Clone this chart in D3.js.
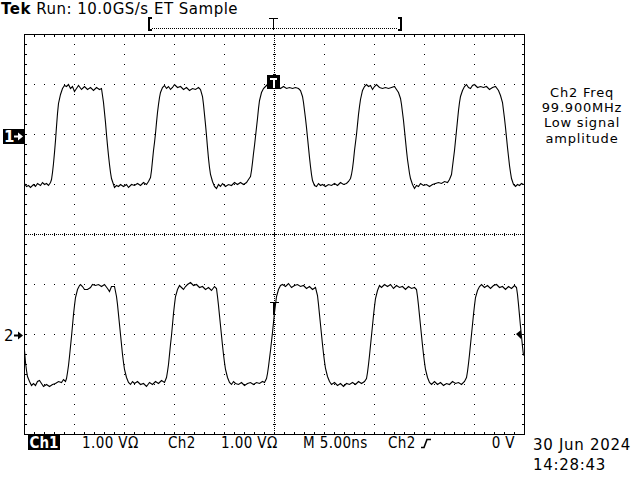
<!DOCTYPE html>
<html>
<head>
<meta charset="utf-8">
<script src="https://cdnjs.cloudflare.com/ajax/libs/d3/7.8.5/d3.min.js"></script>
<style>
  body { margin: 0; background: #fff; }
  svg { display: block; }
  text { font-family: "DejaVu Sans", sans-serif; fill: #000; }
  .bar text { font-family: "Liberation Sans Narrow", "DejaVu Sans Condensed", "DejaVu Sans", sans-serif; font-size: 15px; }
</style>
</head>
<body>
<div id="scope"></div>
<script>
// 5 ns/div across 10 divisions, 1 V/div over 8 divisions
var timeDivs = [-25, -20, -15, -10, -5, 0, 5, 10, 15, 20, 25];
var voltDivs = [-4, -3, -2, -1, 0, 1, 2, 3, 4];
var ch1Offset = 2;   // divisions above centre
var ch2Offset = -2;

// [time ns, volts]
var ch1 = [
  [-25.0,-0.98],[-24.8,-1.04],[-24.6,-1.02],[-24.4,-1.06],[-24.1,-1.00],[-23.9,-1.04],[-23.7,-0.98],[-23.4,-1.02],
  [-23.2,-0.96],[-23.0,-1.00],[-22.8,-0.98],[-22.6,-1.02],[-22.4,-0.96],[-22.3,-0.90],
  [-22.2,-0.76],[-22.1,-0.58],[-22.0,-0.36],[-21.9,-0.12],[-21.8,0.16],[-21.7,0.42],[-21.6,0.62],[-21.4,0.80],[-21.2,0.92],[-21.0,0.98],
  [-20.8,0.96],[-20.6,1.00],[-20.4,0.92],[-20.2,0.96],[-20.0,0.86],[-19.8,0.92],[-19.6,0.98],[-19.3,0.90],[-19.0,0.96],
  [-18.7,0.90],[-18.4,0.94],[-18.1,0.88],[-17.8,0.94],[-17.5,0.90],[-17.3,0.92],
  [-17.2,0.78],[-17.1,0.64],[-17.0,0.44],[-16.9,0.24],[-16.8,0.00],[-16.7,-0.22],[-16.6,-0.42],[-16.5,-0.60],[-16.4,-0.76],[-16.3,-0.88],[-16.1,-1.00],
  [-16.0,-1.06],[-15.8,-1.02],[-15.6,-1.04],[-15.4,-1.00],[-15.1,-1.04],[-14.8,-1.00],[-14.6,-1.06],[-14.3,-1.00],[-14.0,-1.02],
  [-13.7,-0.98],[-13.4,-1.02],[-13.1,-0.96],[-12.8,-1.00],[-12.6,-0.94],[-12.4,-0.86],
  [-12.3,-0.72],[-12.2,-0.52],[-12.1,-0.32],[-12.0,-0.16],[-11.9,0.02],[-11.8,0.24],[-11.7,0.44],[-11.6,0.60],[-11.5,0.74],[-11.4,0.84],[-11.2,0.94],[-11.0,0.98],
  [-10.8,0.92],[-10.6,0.96],[-10.4,0.90],[-10.2,0.94],[-10.0,1.00],[-9.7,0.94],[-9.4,0.96],[-9.1,0.90],[-8.8,0.94],[-8.5,0.88],[-8.2,0.92],[-7.9,0.90],[-7.6,0.94],[-7.4,0.90],
  [-7.2,0.76],[-7.1,0.60],[-7.0,0.40],[-6.9,0.20],[-6.8,-0.02],[-6.7,-0.26],[-6.6,-0.48],[-6.5,-0.66],[-6.4,-0.80],[-6.2,-0.94],[-6.0,-1.04],
  [-5.8,-1.08],[-5.6,-1.00],[-5.4,-1.04],[-5.2,-0.98],[-4.9,-1.04],[-4.6,-1.00],[-4.3,-1.02],[-4.0,-0.96],[-3.7,-1.00],[-3.4,-0.96],[-3.1,-1.00],[-2.8,-0.96],[-2.6,-0.90],[-2.4,-0.84],
  [-2.3,-0.72],[-2.2,-0.56],[-2.1,-0.38],[-2.0,-0.22],[-1.9,-0.04],[-1.8,0.14],[-1.7,0.32],[-1.6,0.52],[-1.5,0.68],[-1.3,0.84],[-1.1,0.92],[-0.9,0.96],
  [-0.7,1.00],[-0.4,0.98],[0.0,0.94],[0.3,0.96],[0.6,0.92],[0.9,0.96],[1.2,0.92],[1.5,0.94],[1.8,0.92],[2.1,0.94],[2.4,0.92],[2.6,0.88],
  [2.8,0.76],[2.9,0.64],[3.0,0.48],[3.1,0.32],[3.2,0.14],[3.3,-0.06],[3.4,-0.26],[3.5,-0.46],[3.6,-0.64],[3.7,-0.80],[3.8,-0.92],[4.0,-1.02],
  [4.2,-1.04],[4.4,-0.98],[4.6,-1.02],[4.8,-1.00],[5.1,-1.04],[5.4,-1.00],[5.7,-1.02],[6.0,-0.98],[6.3,-1.02],[6.6,-0.96],[6.9,-1.00],[7.2,-0.98],[7.4,-0.94],[7.6,-0.88],
  [7.7,-0.80],[7.8,-0.68],[7.9,-0.52],[8.0,-0.32],[8.1,-0.16],[8.2,0.00],[8.3,0.20],[8.4,0.40],[8.5,0.56],[8.6,0.70],[8.8,0.88],[9.0,0.96],
  [9.2,1.00],[9.4,0.96],[9.6,0.98],[9.8,0.90],[10.0,0.96],[10.2,1.00],[10.5,0.94],[10.8,0.92],[11.1,0.94],[11.4,0.92],[11.7,0.94],[12.0,0.96],[12.2,0.90],
  [12.4,0.84],[12.6,0.72],[12.7,0.60],[12.8,0.44],[12.9,0.28],[13.0,0.08],[13.1,-0.12],[13.2,-0.32],[13.3,-0.50],[13.4,-0.64],[13.5,-0.78],[13.6,-0.88],[13.8,-1.00],
  [14.0,-1.08],[14.2,-1.02],[14.4,-1.04],[14.6,-0.98],[14.9,-1.02],[15.2,-1.00],[15.5,-1.04],[15.8,-1.00],[16.1,-0.98],[16.4,-0.96],[16.7,-0.98],[17.0,-0.94],[17.3,-0.96],[17.5,-0.90],
  [17.7,-0.80],[17.8,-0.64],[17.9,-0.48],[18.0,-0.32],[18.1,-0.12],[18.2,0.08],[18.3,0.28],[18.4,0.48],[18.5,0.64],[18.6,0.76],[18.8,0.88],[19.0,0.96],
  [19.2,1.00],[19.4,0.94],[19.6,0.92],[19.8,0.98],[20.0,1.00],[20.3,0.94],[20.6,0.96],[20.9,0.94],[21.2,0.96],[21.5,0.90],[21.8,0.94],[22.1,0.96],[22.4,0.88],
  [22.6,0.78],[22.8,0.64],[22.9,0.48],[23.0,0.32],[23.1,0.14],[23.2,-0.06],[23.3,-0.26],[23.4,-0.44],[23.5,-0.62],[23.6,-0.76],[23.7,-0.88],[23.9,-1.00],
  [24.1,-1.04],[24.3,-1.00],[24.5,-1.02],[24.7,-0.98],[24.9,-1.00]
];

var ch2 = [
  [-25.0,-0.32],[-24.9,-0.56],[-24.8,-0.72],[-24.7,-0.84],[-24.5,-0.94],[-24.3,-1.02],
  [-24.1,-0.98],[-23.9,-1.02],[-23.7,-0.94],[-23.5,-0.92],[-23.3,-0.98],[-23.1,-1.04],[-22.8,-1.00],[-22.5,-1.04],[-22.2,-1.00],
  [-21.9,-0.98],[-21.6,-0.94],[-21.3,-0.96],[-21.1,-0.90],[-20.9,-0.94],[-20.8,-0.88],
  [-20.7,-0.76],[-20.6,-0.62],[-20.5,-0.44],[-20.4,-0.24],[-20.3,-0.04],[-20.2,0.18],[-20.1,0.40],[-20.0,0.58],[-19.9,0.74],[-19.7,0.90],[-19.5,0.98],
  [-19.4,1.00],[-19.2,0.96],[-19.0,0.90],[-18.7,0.90],[-18.4,0.94],[-18.2,1.00],[-17.9,0.98],[-17.6,1.00],[-17.3,0.96],[-17.0,1.00],[-16.7,0.92],[-16.5,0.86],[-16.3,0.96],[-16.0,0.96],
  [-15.8,0.76],[-15.7,0.60],[-15.6,0.40],[-15.5,0.20],[-15.4,0.00],[-15.3,-0.20],[-15.2,-0.40],[-15.1,-0.56],[-15.0,-0.70],[-14.8,-0.86],[-14.6,-0.96],
  [-14.4,-1.00],[-14.2,-0.94],[-14.0,-0.98],[-13.7,-0.94],[-13.4,-1.00],[-13.1,-0.98],[-12.8,-1.04],[-12.5,-0.96],[-12.2,-1.00],[-11.9,-0.94],[-11.6,-0.98],[-11.3,-0.92],[-11.0,-0.96],[-10.8,-0.86],
  [-10.7,-0.74],[-10.6,-0.60],[-10.5,-0.40],[-10.4,-0.20],[-10.3,-0.02],[-10.2,0.20],[-10.1,0.42],[-10.0,0.60],[-9.9,0.76],[-9.7,0.90],[-9.5,0.98],
  [-9.3,0.94],[-9.1,0.90],[-8.9,0.96],[-8.7,1.00],[-8.4,1.04],[-8.1,0.98],[-7.8,1.00],[-7.5,0.94],[-7.2,0.96],[-6.9,0.90],[-6.6,0.94],[-6.3,0.88],[-6.0,0.96],[-5.8,0.92],
  [-5.7,0.76],[-5.6,0.58],[-5.5,0.38],[-5.4,0.18],[-5.3,-0.02],[-5.2,-0.22],[-5.1,-0.40],[-5.0,-0.56],[-4.9,-0.70],[-4.7,-0.86],[-4.5,-0.96],
  [-4.3,-1.00],[-4.1,-0.94],[-3.9,-0.98],[-3.6,-1.00],[-3.3,-0.96],[-3.0,-1.02],[-2.7,-0.98],[-2.4,-0.96],[-2.1,-1.00],[-1.8,-0.96],[-1.5,-0.98],[-1.2,-0.94],[-1.0,-0.96],[-0.8,-0.88],
  [-0.7,-0.78],[-0.6,-0.64],[-0.5,-0.48],[-0.4,-0.32],[-0.3,-0.14],[-0.2,0.04],[-0.1,0.24],[0.0,0.44],[0.1,0.60],[0.2,0.76],[0.4,0.90],[0.6,0.98],
  [0.8,1.00],[1.1,0.96],[1.4,1.02],[1.7,0.94],[2.0,0.98],[2.3,1.00],[2.6,0.96],[2.9,0.98],[3.2,0.92],[3.5,0.96],[3.8,0.90],[4.1,0.94],
  [4.3,0.78],[4.4,0.60],[4.5,0.40],[4.6,0.20],[4.7,0.00],[4.8,-0.20],[4.9,-0.38],[5.0,-0.54],[5.1,-0.68],[5.3,-0.84],[5.5,-0.94],
  [5.7,-1.00],[6.0,-0.96],[6.3,-1.02],[6.6,-0.98],[6.9,-1.04],[7.2,-0.98],[7.5,-1.00],[7.8,-0.96],[8.1,-1.00],[8.4,-0.94],[8.7,-0.98],[9.0,-0.94],[9.2,-0.88],
  [9.3,-0.76],[9.4,-0.60],[9.5,-0.42],[9.6,-0.22],[9.7,-0.02],[9.8,0.18],[9.9,0.38],[10.0,0.56],[10.1,0.72],[10.3,0.88],[10.5,0.98],
  [10.7,0.94],[11.0,1.00],[11.3,0.96],[11.6,1.00],[11.9,0.92],[12.2,0.98],[12.5,0.94],[12.8,0.96],[13.1,0.90],[13.4,0.96],[13.7,0.92],[14.0,0.94],[14.2,0.90],
  [14.3,0.76],[14.4,0.58],[14.5,0.38],[14.6,0.18],[14.7,-0.02],[14.8,-0.22],[14.9,-0.40],[15.0,-0.56],[15.1,-0.70],[15.3,-0.86],[15.5,-0.96],
  [15.7,-1.00],[16.0,-0.94],[16.3,-1.00],[16.6,-0.96],[16.9,-1.02],[17.2,-0.98],[17.5,-1.00],[17.8,-0.94],[18.1,-0.98],[18.4,-0.96],[18.7,-1.00],[19.0,-0.94],[19.2,-0.86],
  [19.3,-0.74],[19.4,-0.58],[19.5,-0.40],[19.6,-0.20],[19.7,0.00],[19.8,0.20],[19.9,0.40],[20.0,0.58],[20.1,0.74],[20.3,0.88],[20.5,0.96],
  [20.7,1.00],[21.0,0.94],[21.3,0.98],[21.6,0.92],[21.9,0.98],[22.2,1.00],[22.5,0.94],[22.8,0.96],[23.1,0.90],[23.4,0.96],[23.7,0.92],[24.0,0.98],[24.2,0.94],
  [24.3,0.80],[24.4,0.60],[24.5,0.38],[24.6,0.16],[24.7,-0.04],[24.8,-0.24],[24.9,-0.42]
];

var readoutLines = ["Ch2 Freq", "99.900MHz", "Low signal", "amplitude"];
var statusLabels = ["1.00 V\u03A9", "Ch2", "1.00 V\u03A9", "M 5.00ns", "Ch2", "0 V"];
var statusX = [82, 168, 221, 303, 388, 515];
var dateLines = ["30 Jun 2024", "14:28:43"];

var width = 640, height = 480;
var plot = {left: 24, right: 524, top: 34, bottom: 434};

var svg = d3.select('#scope').append('svg')
    .attr('width', width)
    .attr('height', height);

var x = d3.scaleLinear().domain([-25, 25]).range([plot.left, plot.right]);
var y = d3.scaleLinear().domain([-4, 4]).range([plot.bottom, plot.top]);

var grat = svg.append('g').attr('class', 'graticule');

// dotted division lines, a dot every 0.2 div
var minorT = d3.range(-25, 25.01, 1).map(d => Math.round(d * 10) / 10);
var minorV = d3.range(-4, 4.01, 0.2).map(d => Math.round(d * 10) / 10);
var dots = [];
timeDivs.slice(1, -1).forEach(t => minorV.forEach(v => dots.push([x(t), y(v)])));
voltDivs.slice(1, -1).forEach(v => minorT.forEach(t => dots.push([x(t), y(v)])));

// centre cross gets finer dots plus small ticks
var fineT = d3.range(-25, 25.01, 0.2);
var fineV = d3.range(-4, 4.01, 0.04);
fineT.forEach(t => dots.push([x(t), y(0)]));
fineV.forEach(v => dots.push([x(0), y(v)]));
minorT.forEach(t => { dots.push([x(t), y(0) - 1]); dots.push([x(t), y(0) + 1]); });
minorV.forEach(v => { dots.push([x(0) - 1, y(v)]); dots.push([x(0) + 1, y(v)]); });

grat.selectAll('.dot')
    .data(dots)
    .enter()
    .append('rect')
    .attr('class', 'dot')
    .attr('x', d => Math.round(d[0]))
    .attr('y', d => Math.round(d[1]))
    .attr('width', 1)
    .attr('height', 1)
    .attr('fill', '#000');

// ticks on the inside of the frame
var edgeTicks = [];
minorT.forEach(t => {
    edgeTicks.push([x(t), plot.top + 1, 1, 2]);
    edgeTicks.push([x(t), plot.bottom - 2, 1, 2]);
});
minorV.forEach(v => {
    edgeTicks.push([plot.left + 1, y(v), 2, 1]);
    edgeTicks.push([plot.right - 2, y(v), 2, 1]);
});
grat.selectAll('.etick')
    .data(edgeTicks)
    .enter()
    .append('rect')
    .attr('class', 'etick')
    .attr('x', d => Math.round(d[0]))
    .attr('y', d => Math.round(d[1]))
    .attr('width', d => d[2])
    .attr('height', d => d[3])
    .attr('fill', '#000');

grat.append('rect')
    .attr('x', plot.left + 0.5)
    .attr('y', plot.top + 0.5)
    .attr('width', plot.right - plot.left)
    .attr('height', plot.bottom - plot.top)
    .attr('fill', 'none')
    .attr('stroke', '#000')
    .attr('stroke-width', 1)
    .attr('shape-rendering', 'crispEdges');

// traces
function trace(offset) {
    return d3.line()
        .x(d => x(d[0]) + 0.5)
        .y(d => y(d[1] + offset) + 0.5);
}

svg.append('path')
    .datum(ch1)
    .attr('class', 'trace ch1')
    .attr('d', trace(ch1Offset))
    .attr('fill', 'none')
    .attr('stroke', '#000')
    .attr('stroke-width', 1.1);

svg.append('path')
    .datum(ch2)
    .attr('class', 'trace ch2')
    .attr('d', trace(ch2Offset))
    .attr('fill', 'none')
    .attr('stroke', '#000')
    .attr('stroke-width', 1.1);

// header
var header = svg.append('text')
    .attr('x', 1)
    .attr('y', 14)
    .style('font-size', '15px')
    .style('letter-spacing', '0.5px');
header.append('tspan').style('font-weight', 'bold').text('Tek');
header.append('tspan').text(' Run: 10.0GS/s ET Sample');

// record window bracket with trigger position
var br = svg.append('g').attr('stroke', '#000').attr('fill', 'none').attr('shape-rendering', 'crispEdges');
br.append('path').attr('d', 'M151.5,17.5 H148.5 V29.5 H151.5').attr('stroke-width', 2);
br.append('path').attr('d', 'M397.5,17.5 H400.5 V29.5 H397.5').attr('stroke-width', 2);
br.append('line')
    .attr('x1', 152).attr('x2', 397).attr('y1', 28.5).attr('y2', 28.5)
    .attr('stroke-dasharray', '1,1');
br.append('path').attr('d', 'M' + (x(0) - 5) + ',18.5 H' + (x(0) + 4)).attr('stroke-width', 1.5);
br.append('line').attr('x1', x(0) - 0.5).attr('x2', x(0) - 0.5).attr('y1', 18).attr('y2', 30).attr('stroke-width', 1.5);

// trigger position marker on ch1
var tBox = svg.append('g').attr('shape-rendering', 'crispEdges');
tBox.append('rect')
    .attr('x', x(0) - 7).attr('y', y(1 + ch1Offset) - 9)
    .attr('width', 13).attr('height', 14)
    .attr('fill', '#000');
tBox.append('rect').attr('x', x(0) - 4).attr('y', y(1 + ch1Offset) - 6).attr('width', 7).attr('height', 2).attr('fill', '#fff');
tBox.append('rect').attr('x', x(0) - 1).attr('y', y(1 + ch1Offset) - 6).attr('width', 2).attr('height', 10).attr('fill', '#fff');

// trigger point on ch2
var t2 = svg.append('g').attr('shape-rendering', 'crispEdges');
t2.append('rect').attr('x', x(0) - 4).attr('y', 302).attr('width', 9).attr('height', 1).attr('fill', '#000');
t2.append('rect').attr('x', x(0) - 1).attr('y', 302).attr('width', 2).attr('height', 13).attr('fill', '#000');

// trigger level arrow at right edge
svg.append('path')
    .attr('d', 'M' + (plot.right - 8) + ',' + y(ch2Offset) + ' L' + (plot.right - 3) + ',' + (y(ch2Offset) - 4) +
        ' L' + (plot.right - 3) + ',' + (y(ch2Offset) + 5) + 'Z')
    .attr('fill', '#000');

// channel ground markers
function groundArrow(g, gy, colour) {
    g.append('rect').attr('x', 14).attr('y', gy - 0.5).attr('width', 5).attr('height', 2).attr('fill', colour);
    g.append('path')
        .attr('d', 'M18,' + (gy - 3.5) + ' L23,' + (gy + 0.5) + ' L18,' + (gy + 4.5) + 'Z')
        .attr('fill', colour);
}

var m1 = svg.append('g');
var g1 = y(ch1Offset) + 2;
m1.append('rect')
    .attr('x', 3).attr('y', g1 - 7)
    .attr('width', 21).attr('height', 15)
    .attr('fill', '#000');
m1.append('text')
    .attr('x', 4).attr('y', g1 + 6)
    .style('font-size', '15px').style('font-weight', 'bold').style('fill', '#fff')
    .text('1');
groundArrow(m1, g1, '#fff');

var m2 = svg.append('g');
var g2 = y(ch2Offset) + 1;
m2.append('text')
    .attr('x', 4).attr('y', g2 + 6)
    .style('font-size', '15px')
    .text('2');
groundArrow(m2, g2, '#000');

// measurement readout
svg.append('g')
    .selectAll('text')
    .data(readoutLines)
    .enter()
    .append('text')
    .attr('x', 582)
    .attr('y', (d, i) => 97 + i * 15.2)
    .attr('text-anchor', 'middle')
    .style('font-size', '13px')
    .style('letter-spacing', '0.8px')
    .text(d => d);

// status bar
var bar = svg.append('g').attr('class', 'bar');
bar.append('rect')
    .attr('x', 28).attr('y', 435)
    .attr('width', 32).attr('height', 15)
    .attr('fill', '#000');
bar.append('text')
    .attr('x', 44).attr('y', 448)
    .attr('text-anchor', 'middle')
    .style('fill', '#fff').style('font-weight', 'bold')
    .text('Ch1');
bar.selectAll('.lbl')
    .data(statusLabels)
    .enter()
    .append('text')
    .attr('class', 'lbl')
    .attr('x', (d, i) => statusX[i])
    .attr('y', 448)
    .attr('text-anchor', (d, i) => i === statusLabels.length - 1 ? 'end' : 'start')
    .style('letter-spacing', '0.4px')
    .text(d => d);
// rising edge slope symbol
bar.append('path')
    .attr('d', 'M421,447.5 H424 L427,439.5 H431')
    .attr('fill', 'none')
    .attr('stroke', '#000')
    .attr('stroke-width', 1.6);

svg.append('g')
    .selectAll('text')
    .data(dateLines)
    .enter()
    .append('text')
    .attr('x', 533)
    .attr('y', (d, i) => 450 + i * 20)
    .style('font-size', '15px')
    .style('letter-spacing', '0.7px')
    .text(d => d);
</script>
</body>
</html>
